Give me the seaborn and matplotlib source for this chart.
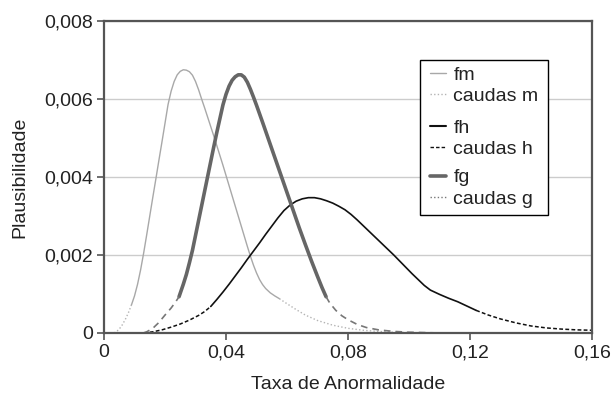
import numpy as np
import seaborn as sns
import matplotlib.pyplot as plt
from matplotlib.lines import Line2D
from matplotlib.legend import Legend
from matplotlib.patches import Rectangle

# fm (curva cinza clara)
fm_x = [0.0033, 0.004, 0.005, 0.006, 0.007, 0.008, 0.009, 0.010, 0.011, 0.012, 0.013,
        0.014, 0.015, 0.016, 0.017, 0.018, 0.019, 0.020, 0.021, 0.022, 0.023, 0.024,
        0.025, 0.026, 0.027, 0.028, 0.029, 0.030, 0.031, 0.032, 0.033, 0.034, 0.035,
        0.036, 0.037, 0.038, 0.039, 0.040, 0.041, 0.042, 0.043, 0.044, 0.045, 0.046,
        0.047, 0.048, 0.049, 0.050, 0.051, 0.052, 0.053, 0.0545, 0.056, 0.0575, 0.060,
        0.063, 0.066, 0.070, 0.075, 0.080, 0.085, 0.090, 0.095, 0.100]
fm_y = [0, 0.00003, 0.0001, 0.00021, 0.00035, 0.00052, 0.00072, 0.00095, 0.00125, 0.00162, 0.00205,
        0.00252, 0.003, 0.00348, 0.00395, 0.00443, 0.0049, 0.00538, 0.00586, 0.0062, 0.00645, 0.00662,
        0.00671, 0.00675, 0.00674, 0.0067, 0.00661, 0.00645, 0.00624, 0.006, 0.00577, 0.00553, 0.00529,
        0.00505, 0.0048, 0.00455, 0.0043, 0.00404, 0.00378, 0.00352, 0.00326, 0.003, 0.00274, 0.00248,
        0.00222, 0.00197, 0.00174, 0.00154, 0.00137, 0.00124, 0.00114, 0.00103, 0.00095, 0.00088, 0.00075,
        0.0006, 0.00046, 0.00032, 0.0002, 0.00012, 0.00007, 0.00004, 0.00002, 0.00001]
fm_core = (0.009, 0.0575)

# fh (curva preta)
fh_x = [0.013, 0.016, 0.019, 0.022, 0.025, 0.028, 0.031, 0.033, 0.035, 0.037, 0.039,
        0.041, 0.043, 0.045, 0.047, 0.049, 0.051, 0.053, 0.055, 0.057, 0.059, 0.061,
        0.063, 0.065, 0.067, 0.069, 0.071, 0.073, 0.075, 0.077, 0.079, 0.081, 0.083,
        0.085, 0.087, 0.089, 0.091, 0.093, 0.095, 0.097, 0.099, 0.101, 0.103, 0.105,
        0.107, 0.110, 0.113, 0.116, 0.119, 0.122, 0.126, 0.130, 0.135, 0.140, 0.145,
        0.150, 0.155, 0.160]
fh_y = [0, 0.00003, 0.00008, 0.00015, 0.00023, 0.00033, 0.00045, 0.00055, 0.00068, 0.00086, 0.00105,
        0.00125, 0.00146, 0.00167, 0.00189, 0.0021, 0.00231, 0.00253, 0.00274, 0.00295, 0.00314, 0.00328,
        0.00338, 0.00344, 0.00347, 0.00347, 0.00344, 0.00339, 0.00333, 0.00325, 0.00316, 0.00304, 0.0029,
        0.00275, 0.0026, 0.00245, 0.0023, 0.00215, 0.002, 0.00184, 0.00168, 0.00152, 0.00137, 0.00122,
        0.0011, 0.00099, 0.00089, 0.0008, 0.00069, 0.00058, 0.00046, 0.00036, 0.00026, 0.00018, 0.00013,
        0.0001, 0.00008, 0.00007]
fh_core = (0.035, 0.122)

# fg (curva cinza escura, grossa)
fg_x = [0.0129, 0.014, 0.016, 0.018, 0.020, 0.022, 0.0235, 0.0246, 0.026, 0.027, 0.028,
        0.029, 0.030, 0.031, 0.032, 0.033, 0.034, 0.035, 0.036, 0.037, 0.038, 0.039,
        0.040, 0.041, 0.042, 0.043, 0.044, 0.045, 0.046, 0.047, 0.048, 0.049, 0.050,
        0.052, 0.054, 0.056, 0.058, 0.060, 0.062, 0.064, 0.066, 0.068, 0.070, 0.0715,
        0.0728, 0.074, 0.076, 0.078, 0.080, 0.083, 0.086, 0.090, 0.095, 0.100, 0.110]
fg_y = [0, 0.00003, 0.00012, 0.00027, 0.00046, 0.00064, 0.0008, 0.00093, 0.00125, 0.0015, 0.0018,
        0.00212, 0.0025, 0.00288, 0.00326, 0.00364, 0.00402, 0.0044, 0.00478, 0.00515, 0.0055, 0.00585,
        0.00612, 0.00633, 0.00648, 0.00657, 0.00662, 0.00662, 0.00656, 0.00643, 0.00625, 0.00605, 0.00584,
        0.0054, 0.00495, 0.0045, 0.00405, 0.0036, 0.00315, 0.0027, 0.00227, 0.00185, 0.00145, 0.00116,
        0.00093, 0.00077, 0.00058, 0.00044, 0.00034, 0.00022, 0.00014, 0.00008, 0.00004, 0.00002, 0]
fg_core = (0.0246, 0.0728)

x_ticks = [0, 0.04, 0.08, 0.12, 0.16]
x_labels = ["0", "0,04", "0,08", "0,12", "0,16"]
y_ticks = [0, 0.002, 0.004, 0.006, 0.008]
y_labels = ["0", "0,002", "0,004", "0,006", "0,008"]

sns.set_theme(style="white")
plt.rcParams["font.family"] = ["Liberation Sans", "DejaVu Sans"]

fig, ax = plt.subplots(figsize=(6.14, 3.95), dpi=100)
fig.subplots_adjust(left=0.1694, right=0.9642, top=0.9468, bottom=0.157)

# estilos: (cor, largura) da parte central e (cor, largura, traço) das caudas
styles = {
    "m": dict(color="#a8a8a8", lw=1.0, tcolor="#b4b4b4", tlw=1.0, tls=(0, (1, 1.6))),
    "h": dict(color="#111111", lw=1.2, tcolor="#111111", tlw=1.1, tls=(0, (2.5, 1.5))),
    "g": dict(color="#666666", lw=2.6, tcolor="#777777", tlw=1.2, tls=(0, (4, 3))),
}


def draw_curve(x, y, core, st):
    x = np.array(x)
    y = np.array(y)
    lo, hi = core
    mid = (x >= lo) & (x <= hi)
    sns.lineplot(x=x[mid], y=y[mid], ax=ax, color=st["color"], linewidth=st["lw"],
                 estimator=None, sort=False)
    for m in [x <= lo, x >= hi]:
        sns.lineplot(x=x[m], y=y[m], ax=ax, color=st["tcolor"], linewidth=st["tlw"],
                     linestyle=st["tls"], estimator=None, sort=False)


draw_curve(fm_x, fm_y, fm_core, styles["m"])
draw_curve(fh_x, fh_y, fh_core, styles["h"])
draw_curve(fg_x, fg_y, fg_core, styles["g"])

ax.set_xlim(0, 0.16)
ax.set_ylim(0, 0.008)
ax.set_xticks(x_ticks)
ax.set_xticklabels(x_labels)
ax.set_yticks(y_ticks)
ax.set_yticklabels(y_labels)
ax.yaxis.grid(True, color="#cccccc", linewidth=1.0)
ax.set_axisbelow(True)

for s in ax.spines.values():
    s.set_color("#555555")
    s.set_linewidth(1.6)
ax.tick_params(axis="both", direction="out", length=5, width=1.2, color="#555555",
               labelsize=14, labelcolor="#222222", pad=3)
ax.tick_params(axis="x", bottom=True)
ax.tick_params(axis="y", left=True)

ax.set_xlabel("Taxa de Anormalidade", fontsize=14, color="#222222", labelpad=11)
ax.set_ylabel("Plausibilidade", fontsize=14, color="#222222", labelpad=11)

# legenda em três grupos dentro de uma caixa
ax.add_patch(Rectangle((0.6475, 0.378), 0.2625, 0.497, transform=ax.transAxes,
                       facecolor="white", edgecolor="black", linewidth=1.0, zorder=4))

groups = [("m", ["fm", "caudas m"], 0.856),
          ("h", ["fh", "caudas h"], 0.686),
          ("g", ["fg", "caudas g"], 0.526)]
for key, labels, top in groups:
    st = styles[key]
    handles = [Line2D([], [], color=st["color"], linewidth=st["lw"] if key != "h" else 1.5),
               Line2D([], [], color=st["tcolor"], linewidth=1.0,
                      linestyle=(0, (1, 1.6)) if key != "h" else st["tls"])]
    leg = Legend(ax, handles, labels, loc="upper left", bbox_to_anchor=(0.668, top),
                 bbox_transform=ax.transAxes, frameon=False, fontsize=14,
                 handlelength=0.8, handletextpad=0.4, labelspacing=0.2,
                 borderpad=0, borderaxespad=0)
    leg.set_zorder(5)
    for t in leg.get_texts():
        t.set_color("#222222")
    ax.add_artist(leg)

fig.savefig("out.png", dpi=100)
